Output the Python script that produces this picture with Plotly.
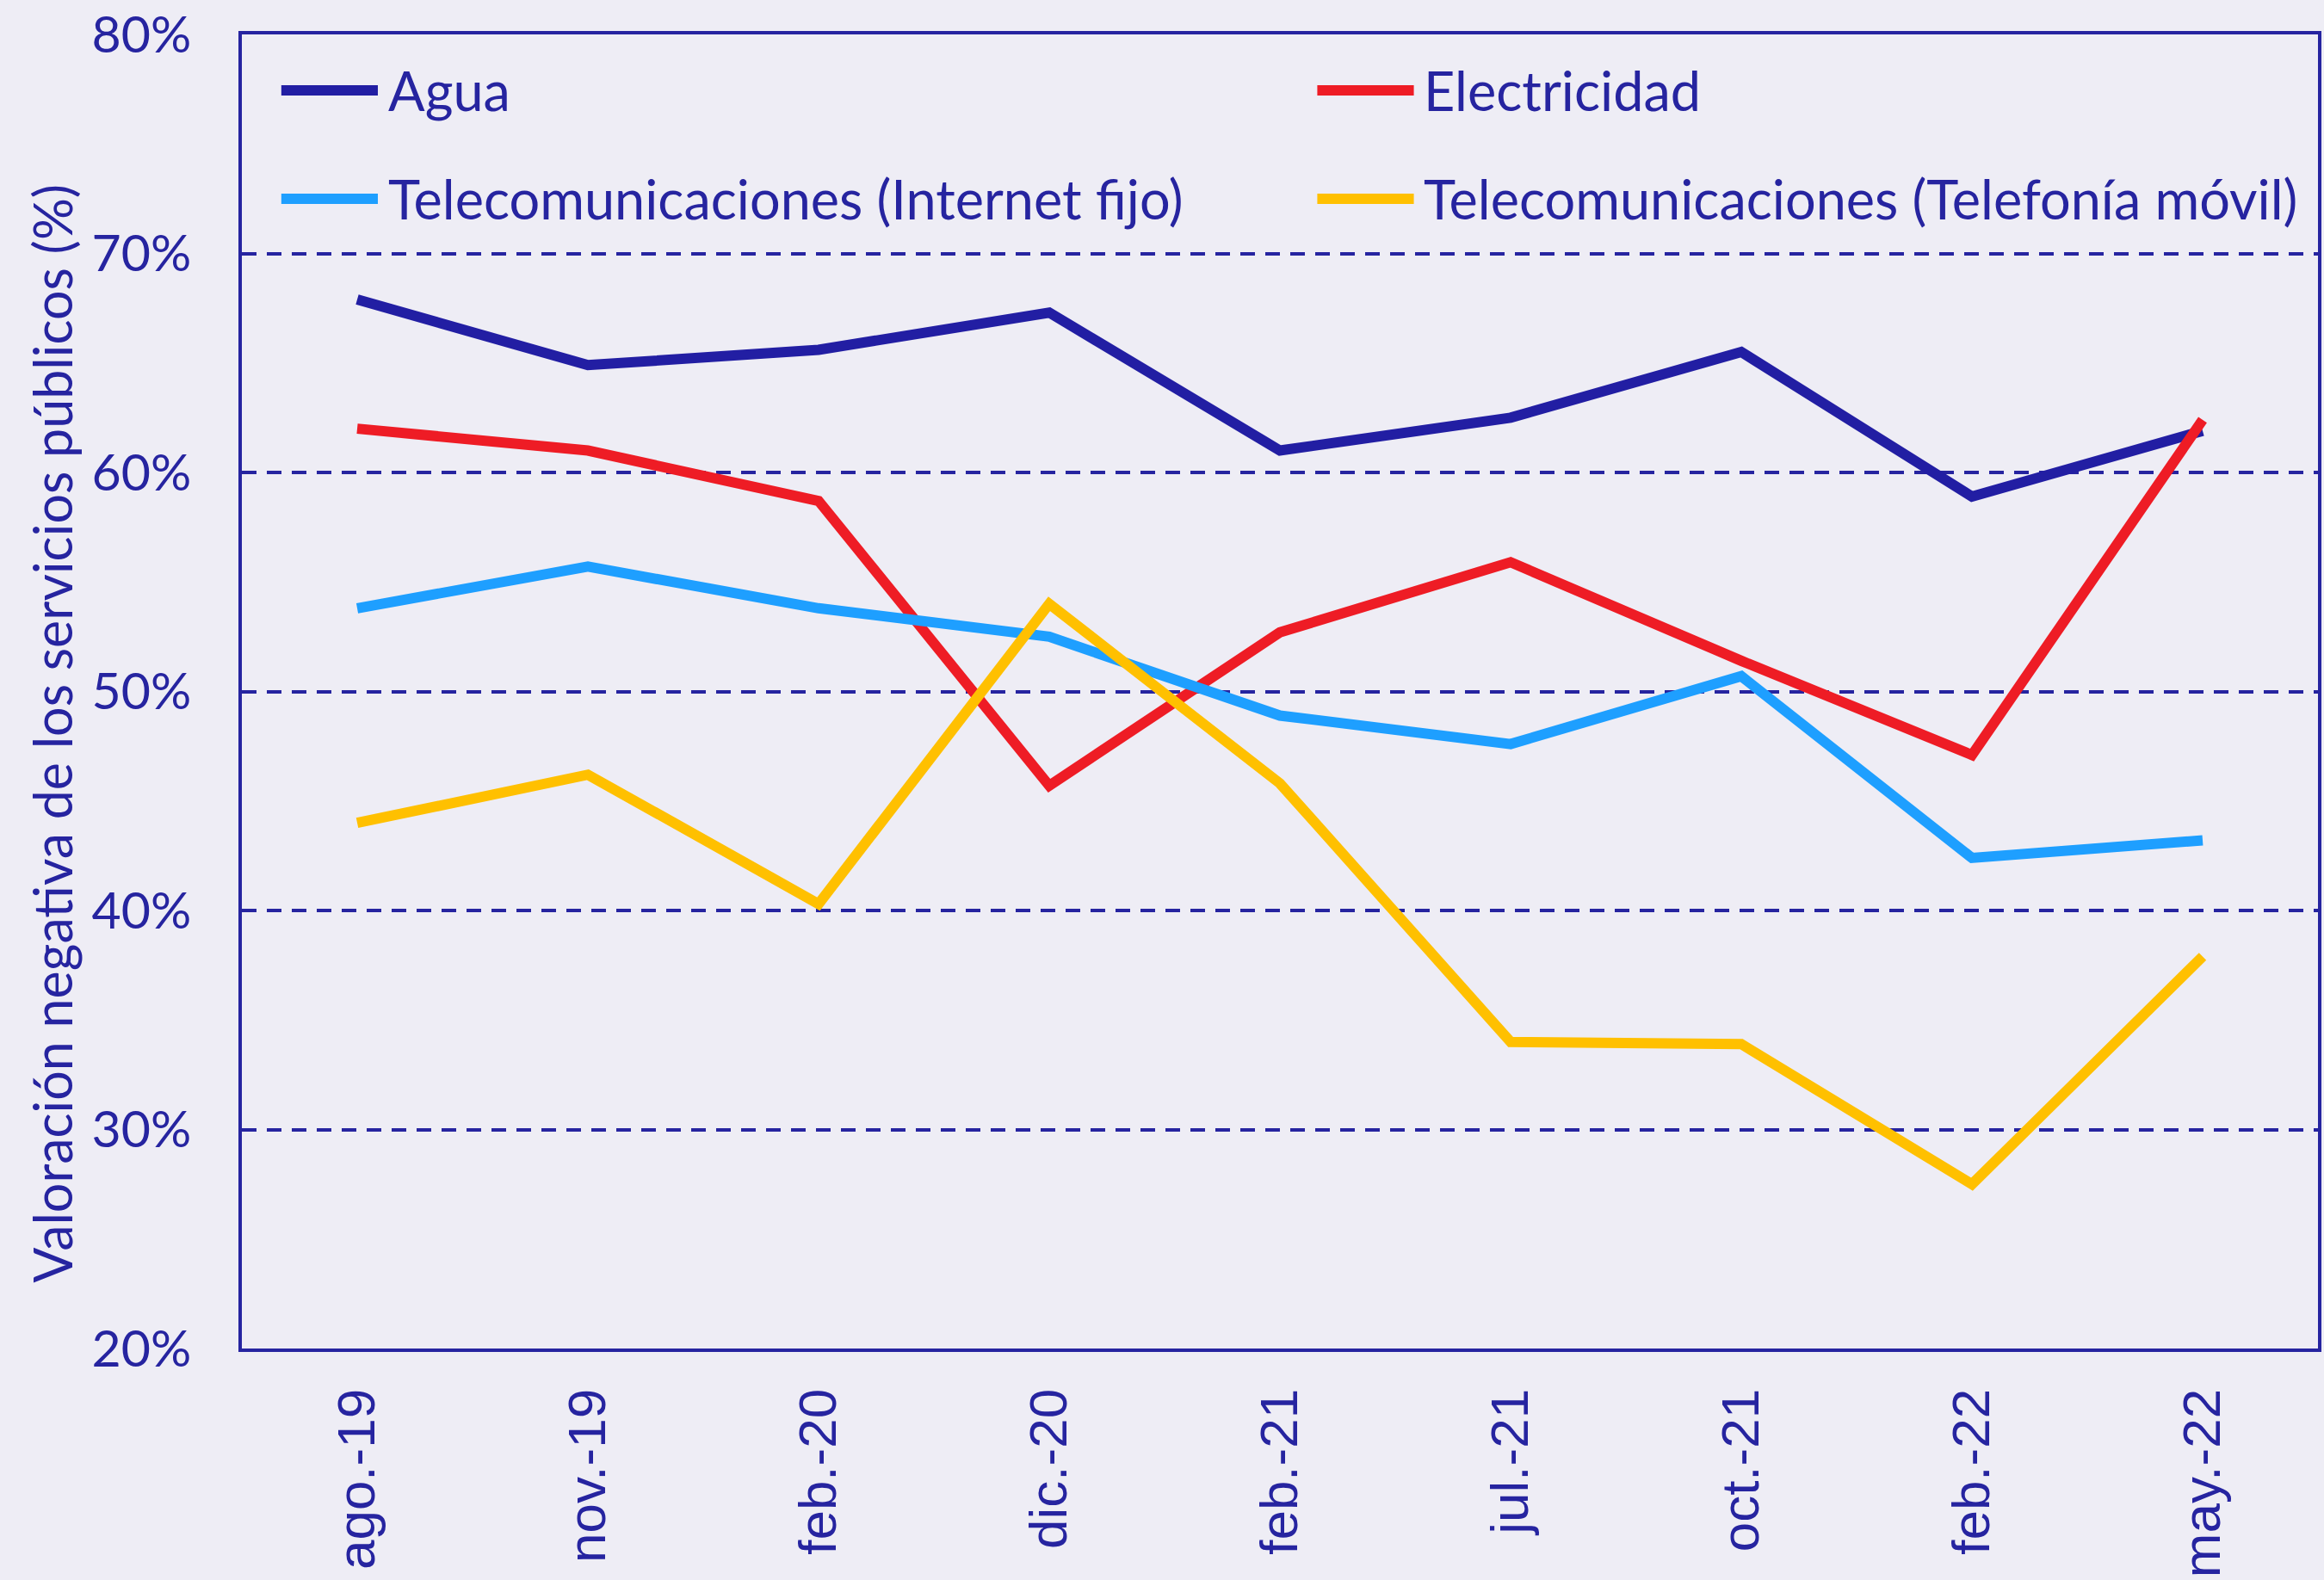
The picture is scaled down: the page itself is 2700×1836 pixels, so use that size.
import plotly.graph_objects as go

categories = ["ago.-19", "nov.-19", "feb.-20", "dic.-20", "feb.-21", "jul.-21", "oct.-21", "feb.-22", "may.-22"]
agua = [67.9, 64.9, 65.6, 67.3, 61.0, 62.5, 65.5, 58.9, 61.9]
electricidad = [62.0, 61.0, 58.7, 45.7, 52.7, 55.9, 51.4, 47.1, 62.4]
internet = [53.8, 55.7, 53.8, 52.5, 48.9, 47.6, 50.7, 42.4, 43.2]
movil = [44.0, 46.2, 40.3, 54.0, 45.8, 34.0, 33.9, 27.5, 37.9]

names = ["Agua", "Electricidad", "Telecomunicaciones (Internet fijo)", "Telecomunicaciones (Telefonía móvil)"]
series = [agua, electricidad, internet, movil]
colors = ["#221EA3", "#EE1C25", "#1E9FFF", "#FFC000"]

TEXT = "#2624A0"
BG = "#EEEDF5"
FONT = "Lato"

fig = go.Figure()
for n, s, c in zip(names, series, colors):
    fig.add_trace(go.Scatter(x=categories, y=[v / 100 for v in s], mode="lines", name=n,
                             line=dict(color=c, width=12), showlegend=False))

# custom legend (two columns, long line samples)
leg_pos = [(0.019, 0.9575), (0.518, 0.9575), (0.019, 0.875), (0.518, 0.875)]
for (lx, ly), n, c in zip(leg_pos, names, colors):
    fig.add_shape(type="line", xref="x domain", yref="y domain", x0=lx, x1=lx + 0.0465, y0=ly, y1=ly,
                  line=dict(color=c, width=12))
    fig.add_annotation(xref="x domain", yref="y domain", x=lx + 0.0505, y=ly, text=n, showarrow=False,
                       xanchor="left", yanchor="middle", font=dict(family=FONT, size=63, color=TEXT))

# y-axis title (placed slightly below the plot centre, as in the original)
fig.add_annotation(xref="paper", yref="paper", x=-0.0915, y=0.468, xanchor="center", yanchor="middle",
                   text="Valoración negativa de los servicios públicos (%)", textangle=-90,
                   showarrow=False, font=dict(family=FONT, size=61, color=TEXT))

fig.update_layout(
    width=2700, height=1836,
    paper_bgcolor=BG, plot_bgcolor=BG,
    margin=dict(l=281, r=3, t=38, b=269),
    font=dict(family=FONT, color=TEXT),
)
fig.update_xaxes(
    type="category", range=[-0.5, 8.5], showgrid=False, zeroline=False,
    showline=True, linecolor=TEXT, linewidth=4, mirror=True, ticks="",
    tickangle=-90, tickfont=dict(family="Liberation Sans", size=62, color=TEXT),
    ticklabelstandoff=18,
)
fig.update_yaxes(
    range=[0.2, 0.8], dtick=0.1, tickformat=".0%",
    showgrid=True, gridcolor=TEXT, gridwidth=4, griddash="17px,12px",
    zeroline=False, showline=True, linecolor=TEXT, linewidth=4, mirror=True, ticks="",
    tickfont=dict(family=FONT, size=59, color=TEXT), ticklabelstandoff=43,
)

fig.write_html("out.html", config={"displayModeBar": False},
               post_script="document.body.style.margin='0';document.body.style.overflow='hidden';")
